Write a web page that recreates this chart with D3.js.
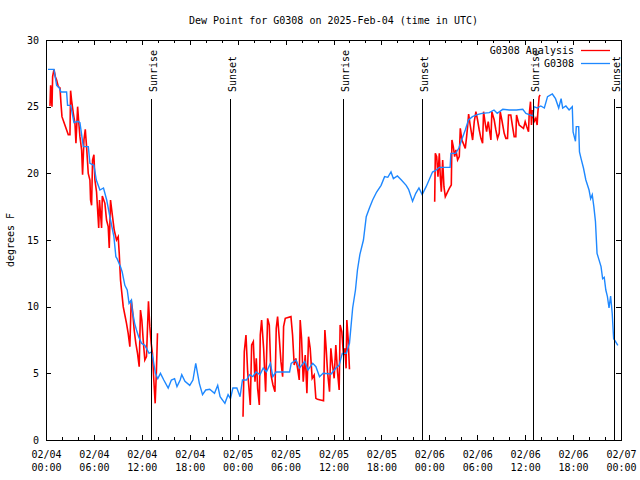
<!DOCTYPE html>
<html><head><meta charset="utf-8">
<script src="https://cdn.jsdelivr.net/npm/d3@7"></script>
<style>
body{margin:0;background:#fff}
svg{display:block;background:#fff}
text{font-family:"DejaVu Sans Mono","Liberation Mono",monospace;font-size:10px;fill:#000}
</style>
</head><body>
<svg id="chart" width="640" height="480"></svg>
<script>
// ---------- data ----------
const title = "Dew Point for G0308 on 2025-Feb-04 (time in UTC)";
const yLabel = "degrees F";
const seriesNames = ["G0308 Analysis", "G0308"];
const seriesColors = ["#ff0000", "#1e88ff"];
const startUTC = "2025-02-04T00:00:00Z";
const endUTC = "2025-02-07T00:00:00Z";
const yTicks = [0, 5, 10, 15, 20, 25, 30];
const sunEventNames = ["Sunrise", "Sunset", "Sunrise", "Sunset", "Sunrise", "Sunset"];
const sunEventHours = [13.21, 23.04, 37.17, 47.04, 61.04, 71.08];

// observations (hours since start, deg F)
const obsHours = [0.25,1.0,1.33,1.67,1.875,2.58,2.7,3.1,3.5,4.0,4.25,4.46,4.67,5.3,5.5,6.0,6.3,6.75,7.2,7.6,8.08,8.5,8.75,8.9,9.33,9.54,9.875,10.17,10.4,10.7,10.8,11.1,11.33,11.6,11.96,12.375,12.6,12.9,13.2,13.4,13.7,14.0,14.33,14.75,15.3,15.7,16.1,16.4,16.8,17.0,17.4,18.0,18.4,18.75,19.2,19.6,20.0,20.5,21.1,21.5,21.8,22.4,22.8,23.1,23.4,23.9,24.3,24.6,25.1,25.5,25.9,26.3,26.8,27.2,27.6,28.1,28.4,28.8,29.7,30.5,30.7,31.3,31.75,32.4,32.8,33.4,33.8,34.25,34.7,35.7,36.3,36.7,37.1,37.6,38.0,38.4,38.75,39.0,39.3,39.75,40.1,40.5,40.9,41.4,41.96,42.4,42.8,43.2,43.5,44.0,44.5,45.1,45.4,45.9,46.3,46.7,47.1,47.6,48.4,48.75,49.25,50.6,50.7,51.3,51.7,52.1,52.5,52.9,53.4,54.0,54.6,55.5,56.1,56.5,57.2,58.0,58.9,59.7,60.1,60.5,61.0,61.1,61.5,61.96,62.4,62.8,63.4,63.8,64.2,64.5,64.7,65.1,65.5,65.9,66.0,66.3,66.4,66.7,66.8,67.0,67.3,67.6,68.0,68.2,68.4,68.6,68.8,69.0,69.2,69.5,69.7,69.9,70.1,70.3,70.5,70.7,70.9,71.0,71.08,71.3,71.6];
const obsDew = [27.8,27.8,26.6,26.4,26.1,26.1,25.1,25.1,23.8,23.9,23.8,22.9,22.0,22.0,20.75,20.6,19.5,18.75,18.9,18.0,16.5,15.25,13.75,13.6,13.0,12.6,11.6,11.25,10.25,10.5,9.75,8.75,8.25,7.75,7.25,7.1,6.85,6.5,6.6,6.1,5.0,4.6,5.0,4.5,3.9,4.5,4.6,4.0,4.5,4.9,4.4,4.1,4.5,5.75,4.25,3.4,3.75,3.8,3.5,4.1,3.25,2.75,3.4,3.1,3.9,3.9,3.25,4.5,4.5,4.9,4.75,5.1,4.9,5.4,5.1,5.75,4.75,5.1,5.1,5.1,5.75,6.0,5.4,5.9,5.25,5.75,5.5,4.75,5.0,4.95,5.4,5.6,6.5,6.5,7.25,9.9,11.25,12.75,13.9,15.0,16.75,17.4,18.0,18.6,19.1,19.75,19.7,20.1,19.6,19.8,19.5,19.1,18.8,17.9,18.5,18.9,18.4,19.0,20.1,20.2,20.45,20.45,21.5,21.5,21.9,22.6,23.25,24.0,24.25,24.4,24.5,24.55,24.75,24.5,24.8,24.75,24.75,24.8,24.5,24.4,24.3,25.0,24.9,25.05,24.9,25.75,25.95,25.6,24.9,25.6,24.9,25.05,24.75,25.0,23.1,22.4,23.5,23.5,21.6,21.1,20.4,19.5,18.75,18.1,18.4,17.5,16.4,14.0,13.6,13.0,12.1,12.2,11.25,10.75,9.9,10.8,9.5,8.4,7.6,7.4,7.1];

// analysis (null = gap)
const anaHours = [0.5,0.58,0.75,0.83,1.0,1.17,1.33,1.54,1.75,1.875,2.0,2.375,2.79,3.0,3.08,3.2,3.42,3.625,3.75,3.96,4.08,4.25,4.46,4.58,4.75,4.92,5.08,5.29,5.5,5.58,5.71,5.83,6.0,6.125,6.33,6.46,6.6,6.7,6.96,7.05,7.375,7.58,7.79,7.92,8.08,8.33,8.54,8.83,9.04,9.17,9.33,9.5,9.67,9.875,10.08,10.29,10.5,10.67,10.83,11.04,11.25,11.46,11.67,11.83,12.0,12.17,12.375,12.58,12.83,13.0,13.17,13.33,13.5,13.67,13.83,13.96,
  null,
  24.67,24.83,25.04,25.25,25.58,25.75,25.96,26.17,26.33,26.5,26.71,26.83,27.0,27.25,27.5,27.75,27.96,28.17,28.42,28.67,28.83,29.0,29.21,29.42,29.63,29.75,29.96,30.67,30.875,31.08,31.29,31.5,31.71,31.83,32.0,32.21,32.46,32.67,32.875,33.08,33.33,33.58,33.79,34.0,34.75,34.92,35.08,35.25,35.5,35.67,35.875,36.08,36.29,36.5,36.71,36.83,37.04,37.25,37.42,37.58,37.67,37.83,38.0,
  null,
  48.67,48.75,48.92,49.08,49.25,49.375,49.5,49.67,49.83,50.0,50.5,50.75,50.83,51.0,51.17,51.33,51.54,51.75,51.875,52.08,52.25,52.5,52.67,52.79,52.92,53.08,53.25,53.42,53.625,53.83,54.04,54.25,54.46,54.67,54.79,55.0,55.17,55.375,55.71,55.83,56.125,56.33,56.54,56.75,56.875,57.08,57.375,57.58,57.79,57.92,58.2,58.42,58.625,58.83,58.92,59.08,59.25,59.5,59.79,60.0,60.2,60.42,60.5,60.67,60.79,60.92,61.125,61.33,61.5,61.58,61.75,61.875];
const anaDew = [25.05,26.6,25.0,27.25,27.8,27.25,27.0,26.5,26.4,25.25,24.25,23.6,22.9,22.9,26.2,25.5,24.5,23.75,22.25,25.0,24.0,22.75,21.75,19.9,22.5,23.3,22.0,20.0,19.5,18.0,17.6,21.0,21.4,19.5,18.6,17.3,15.9,18.0,15.9,18.3,17.75,16.5,16.0,14.4,18.0,16.75,15.75,15.0,15.25,14.0,12.0,11.0,10.0,9.375,8.75,8.0,7.0,10.5,9.75,8.25,7.25,6.5,5.5,9.75,9.0,7.5,6.0,6.25,10.4,8.5,7.25,6.5,4.5,2.75,5.25,8.0,
  null,
  1.75,6.625,7.875,5.125,2.625,7.125,7.375,4.375,6.125,3.875,2.625,7.875,9.0,6.875,3.625,9.125,8.625,4.875,4.125,3.625,8.375,9.25,7.625,5.875,4.75,8.5,9.125,9.25,7.875,5.625,6.125,5.375,4.5,9.0,7.625,4.375,6.375,3.5,7.75,6.875,4.625,4.875,3.125,3.05,2.95,8.25,6.875,5.125,3.625,6.875,5.625,4.625,7.125,5.125,3.75,8.625,8.125,6.375,6.875,5.375,9.0,7.625,5.3,
  null,
  17.875,21.5,21.25,19.75,21.5,19.75,18.625,21.0,19.0,18.25,18.875,19.125,22.5,22.0,21.25,21.75,21.0,21.25,23.375,22.5,22.25,21.875,22.75,23.5,24.45,23.75,23.125,22.5,23.875,24.625,24.0,23.25,22.625,22.25,24.625,23.75,23.125,23.875,22.5,24.625,24.0,23.25,22.625,23.0,24.625,24.0,23.0,22.625,22.625,24.375,24.375,23.5,22.75,22.75,24.375,24.0,23.625,23.5,23.375,23.875,23.5,23.125,24.375,25.375,23.625,24.75,23.875,24.125,23.625,24.5,25.75,25.875];

// ---------- layout ----------
const L = 46, R = 621, T = 40, B = 440;
const svg = d3.select("#chart");
const t0 = new Date(startUTC), t1 = new Date(endUTC);
const hourToDate = h => new Date(t0.getTime() + h * 3600e3);

const x = d3.scaleUtc().domain([t0, t1]).range([L, R]);
const y = d3.scaleLinear().domain([0, 30]).range([B, T]);

// title
svg.append("text").attr("x", (L + R) / 2).attr("y", 24).attr("text-anchor", "middle").text(title);

// y label
svg.append("text").attr("transform", `translate(14,${(T + B) / 2}) rotate(-90)`)
  .attr("text-anchor", "middle").text(yLabel);

// axes
const fmtD = d3.utcFormat("%m/%d"), fmtT = d3.utcFormat("%H:%M");
const major = d3.utcHour.every(6), minor = d3.utcHour.every(2);

function clean(g){ g.select(".domain").remove(); g.selectAll("line").attr("stroke", "#000").attr("shape-rendering", "crispEdges"); }

svg.append("g").attr("transform", `translate(0,${B})`)
  .call(d3.axisBottom(x).ticks(minor).tickSize(-3).tickFormat(""))
  .call(clean).selectAll("text").remove();
const xb = svg.append("g").attr("transform", `translate(0,${B})`)
  .call(d3.axisBottom(x).ticks(major).tickSize(-5).tickPadding(0))
  .call(clean);
xb.selectAll(".tick text").each(function(d){
  const t = d3.select(this);
  t.text(null).attr("dy", null).attr("y", null);
  t.append("tspan").attr("x", 0).attr("y", 18).text(fmtD(d));
  t.append("tspan").attr("x", 0).attr("y", 31).text(fmtT(d));
});
xb.selectAll("text").attr("font-size", null).attr("font-family", null);

svg.append("g").attr("transform", `translate(0,${T})`)
  .call(d3.axisTop(x).ticks(minor).tickSize(-3).tickFormat(""))
  .call(clean).selectAll("text").remove();
svg.append("g").attr("transform", `translate(0,${T})`)
  .call(d3.axisTop(x).ticks(major).tickSize(-5).tickFormat(""))
  .call(clean).selectAll("text").remove();

const yl = svg.append("g").attr("transform", `translate(${L},0)`)
  .call(d3.axisLeft(y).tickValues(yTicks).tickSize(-5).tickPadding(7))
  .call(clean);
yl.selectAll("text").attr("font-size", null).attr("font-family", null);
svg.append("g").attr("transform", `translate(${R},0)`)
  .call(d3.axisRight(y).tickValues(yTicks).tickSize(-5).tickFormat(""))
  .call(clean).selectAll("text").remove();

// data lines
const line = d3.line()
  .defined(d => d[0] != null && d[1] != null)
  .x(d => x(hourToDate(d[0]))).y(d => y(d[1]));

const anaData = anaHours.map((h, i) => [h, anaDew[i]]);
const obsData = obsHours.map((h, i) => [h, obsDew[i]]);

svg.append("path").datum(anaData).attr("fill", "none").attr("stroke", seriesColors[0])
  .attr("stroke-width", 1.6).attr("stroke-linejoin", "miter").attr("d", line);
svg.append("path").datum(obsData).attr("fill", "none").attr("stroke", seriesColors[1])
  .attr("stroke-width", 1.4).attr("d", line);

// sun events
sunEventHours.forEach((h, i) => {
  const xx = Math.round(x(hourToDate(h))) + 0.5;
  svg.append("line").attr("x1", xx).attr("x2", xx).attr("y1", 99).attr("y2", B)
    .attr("stroke", "#000").attr("stroke-width", 1);
  svg.append("text").attr("transform", `translate(${xx + 5},92) rotate(-90)`)
    .attr("text-anchor", "start").text(sunEventNames[i]);
});

// border
svg.append("rect").attr("x", L + 0.5).attr("y", T + 0.5).attr("width", R - L).attr("height", B - T)
  .attr("fill", "none").attr("stroke", "#000").attr("shape-rendering", "crispEdges");

// legend
seriesNames.forEach((n, i) => {
  const yy = 50 + i * 13;
  svg.append("text").attr("x", 574).attr("y", yy).attr("dy", "0.35em").attr("text-anchor", "end").text(n);
  svg.append("line").attr("x1", 581).attr("x2", 610).attr("y1", yy + 0.5).attr("y2", yy + 0.5)
    .attr("stroke", seriesColors[i]).attr("stroke-width", 1.3);
});
</script>
</body></html>
